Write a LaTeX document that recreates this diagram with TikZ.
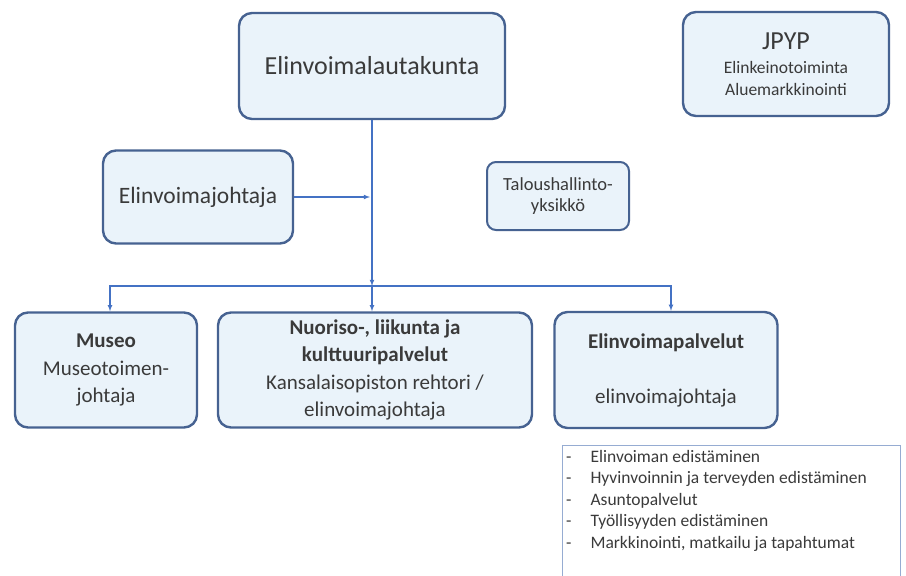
\documentclass[tikz,border=0pt]{standalone}
\usepackage{fontspec}
\setmainfont{Carlito}

\definecolor{boxfill}{RGB}{234,243,250}
\definecolor{boxline}{RGB}{70,98,145}
\definecolor{linkblue}{RGB}{68,114,196}
\definecolor{textgray}{RGB}{58,58,58}
\definecolor{listline}{RGB}{150,172,210}

\begin{document}
\begin{tikzpicture}[x=1pt,y=-1pt,
 orgbox/.style={draw=boxline,line width=2.4pt,fill=boxfill,rounded corners=13pt,text=textgray,align=center,inner sep=0pt},
 link/.style={draw=linkblue,line width=1.1pt,-latex}]
 \clip (0,0) rectangle (906,576);
 \node[orgbox,minimum width=266pt,minimum height=106pt,font=\fontsize{26}{31}\selectfont] (lauta) at (372,66) {Elinvoimalautakunta};
 \node[orgbox,minimum width=206pt,minimum height=104pt,font=\fontsize{17.5}{22}\selectfont] (jpyp) at (786,64) {{\fontsize{26}{28}\selectfont JPYP}\\[2pt]Elinkeinotoiminta\\Aluemarkkinointi};
 \node[orgbox,minimum width=190pt,minimum height=93pt,font=\fontsize{23.5}{28}\selectfont] (johtaja) at (198,197) {Elinvoimajohtaja};
 \node[orgbox,minimum width=142pt,minimum height=68pt,line width=2pt,rounded corners=9pt,font=\fontsize{18.5}{21}\selectfont] (talous) at (558,196) {Taloushallinto-\\yksikkö};
 \node[orgbox,minimum width=182pt,minimum height=115pt,font=\fontsize{21}{27.5}\selectfont] (museo) at (106,370) {\textbf{Museo}\\Museotoimen-\\johtaja};
 \node[orgbox,minimum width=314pt,minimum height=115pt,font=\fontsize{21}{27.5}\selectfont] (nuoriso) at (375,370) {\textbf{Nuoriso-, liikunta ja}\\\textbf{kulttuuripalvelut}\\Kansalaisopiston rehtori /\\elinvoimajohtaja};
 \node[orgbox,minimum width=223pt,minimum height=116pt,font=\fontsize{21}{27.5}\selectfont] (palvelut) at (666,370) {\textbf{Elinvoimapalvelut}\\[27.5pt]elinvoimajohtaja};
 % list of tasks under Elinvoimapalvelut
 \draw[listline,line width=0.9pt] (562,600) rectangle (900,445);
 \node[anchor=base west,inner sep=0pt,text=textgray,font=\fontsize{17.5}{21.5}\selectfont] (tehtavat) at (566,462)
  {\begin{tabular}[t]{@{}l@{\hspace{19pt}}l@{}}
   - & Elinvoiman edistäminen\\
   - & Hyvinvoinnin ja terveyden edistäminen\\
   - & Asuntopalvelut\\
   - & Työllisyyden edistäminen\\
   - & Markkinointi, matkailu ja tapahtumat
  \end{tabular}};
 \coordinate (haara) at (372,286);
 \coordinate (liitos) at (370,197);
 \draw[link] (lauta) -- (haara);
 \draw[link] (johtaja) -- (liitos);
 \draw[link] (haara) -| ([xshift=4pt]museo.north);
 \draw[link] (haara) -- (haara |- nuoriso.north);
 \draw[link] (haara) -| ([xshift=5pt]palvelut.north);
\end{tikzpicture}
\end{document}
